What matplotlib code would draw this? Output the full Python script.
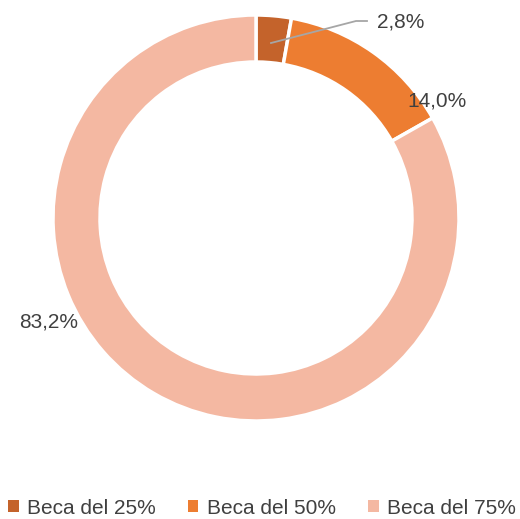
import matplotlib
matplotlib.use("Agg")
import matplotlib.pyplot as plt
from matplotlib.patches import Patch

categories = ["Beca del 25%", "Beca del 50%", "Beca del 75%"]
values = [2.8, 14.0, 83.2]
labels = ["2,8%", "14,0%", "83,2%"]
colors = ["#C4632B", "#ED7D31", "#F4B8A2"]

W, H = 520, 519
fig = plt.figure(figsize=(W / 100, H / 100), dpi=100)
ax = fig.add_axes([0, 0, 1, 1])
ax.set_xlim(0, W)
ax.set_ylim(0, H)
ax.axis("off")

def py(y):
    return H - y

cx, cy, R = 256, 218, 203
ax.pie(values, colors=colors, startangle=90, counterclock=False,
       center=(cx, py(cy)), radius=R,
       wedgeprops=dict(width=47, edgecolor="white", linewidth=2.5))
ax.set_xlim(0, W)
ax.set_ylim(0, H)
ax.set_aspect("auto")

txt = "#404040"
fs = 15
font = "Liberation Sans"
ax.plot([271, 356, 367], [py(43), py(21), py(21)], color="#A6A6A6", lw=1.3)
ax.text(377, py(22), labels[0], ha="left", va="center", fontsize=fs, color=txt, family=font)
ax.text(407, py(101), labels[1], ha="left", va="center", fontsize=fs, color=txt, family=font)
ax.text(78, py(322), labels[2], ha="right", va="center", fontsize=fs, color=txt, family=font)

handles = [Patch(facecolor=c, edgecolor="none") for c in colors]
leg = fig.legend(handles, categories, loc="center", bbox_to_anchor=(262 / W, 1 - 508 / H),
                 ncol=3, frameon=False, handlelength=0.5, handleheight=0.5,
                 handletextpad=0.4, columnspacing=1.55,
                 borderpad=0, borderaxespad=0,
                 prop=dict(family=font, size=fs))
for t in leg.get_texts():
    t.set_color(txt)

fig.savefig("out.png", dpi=100)
